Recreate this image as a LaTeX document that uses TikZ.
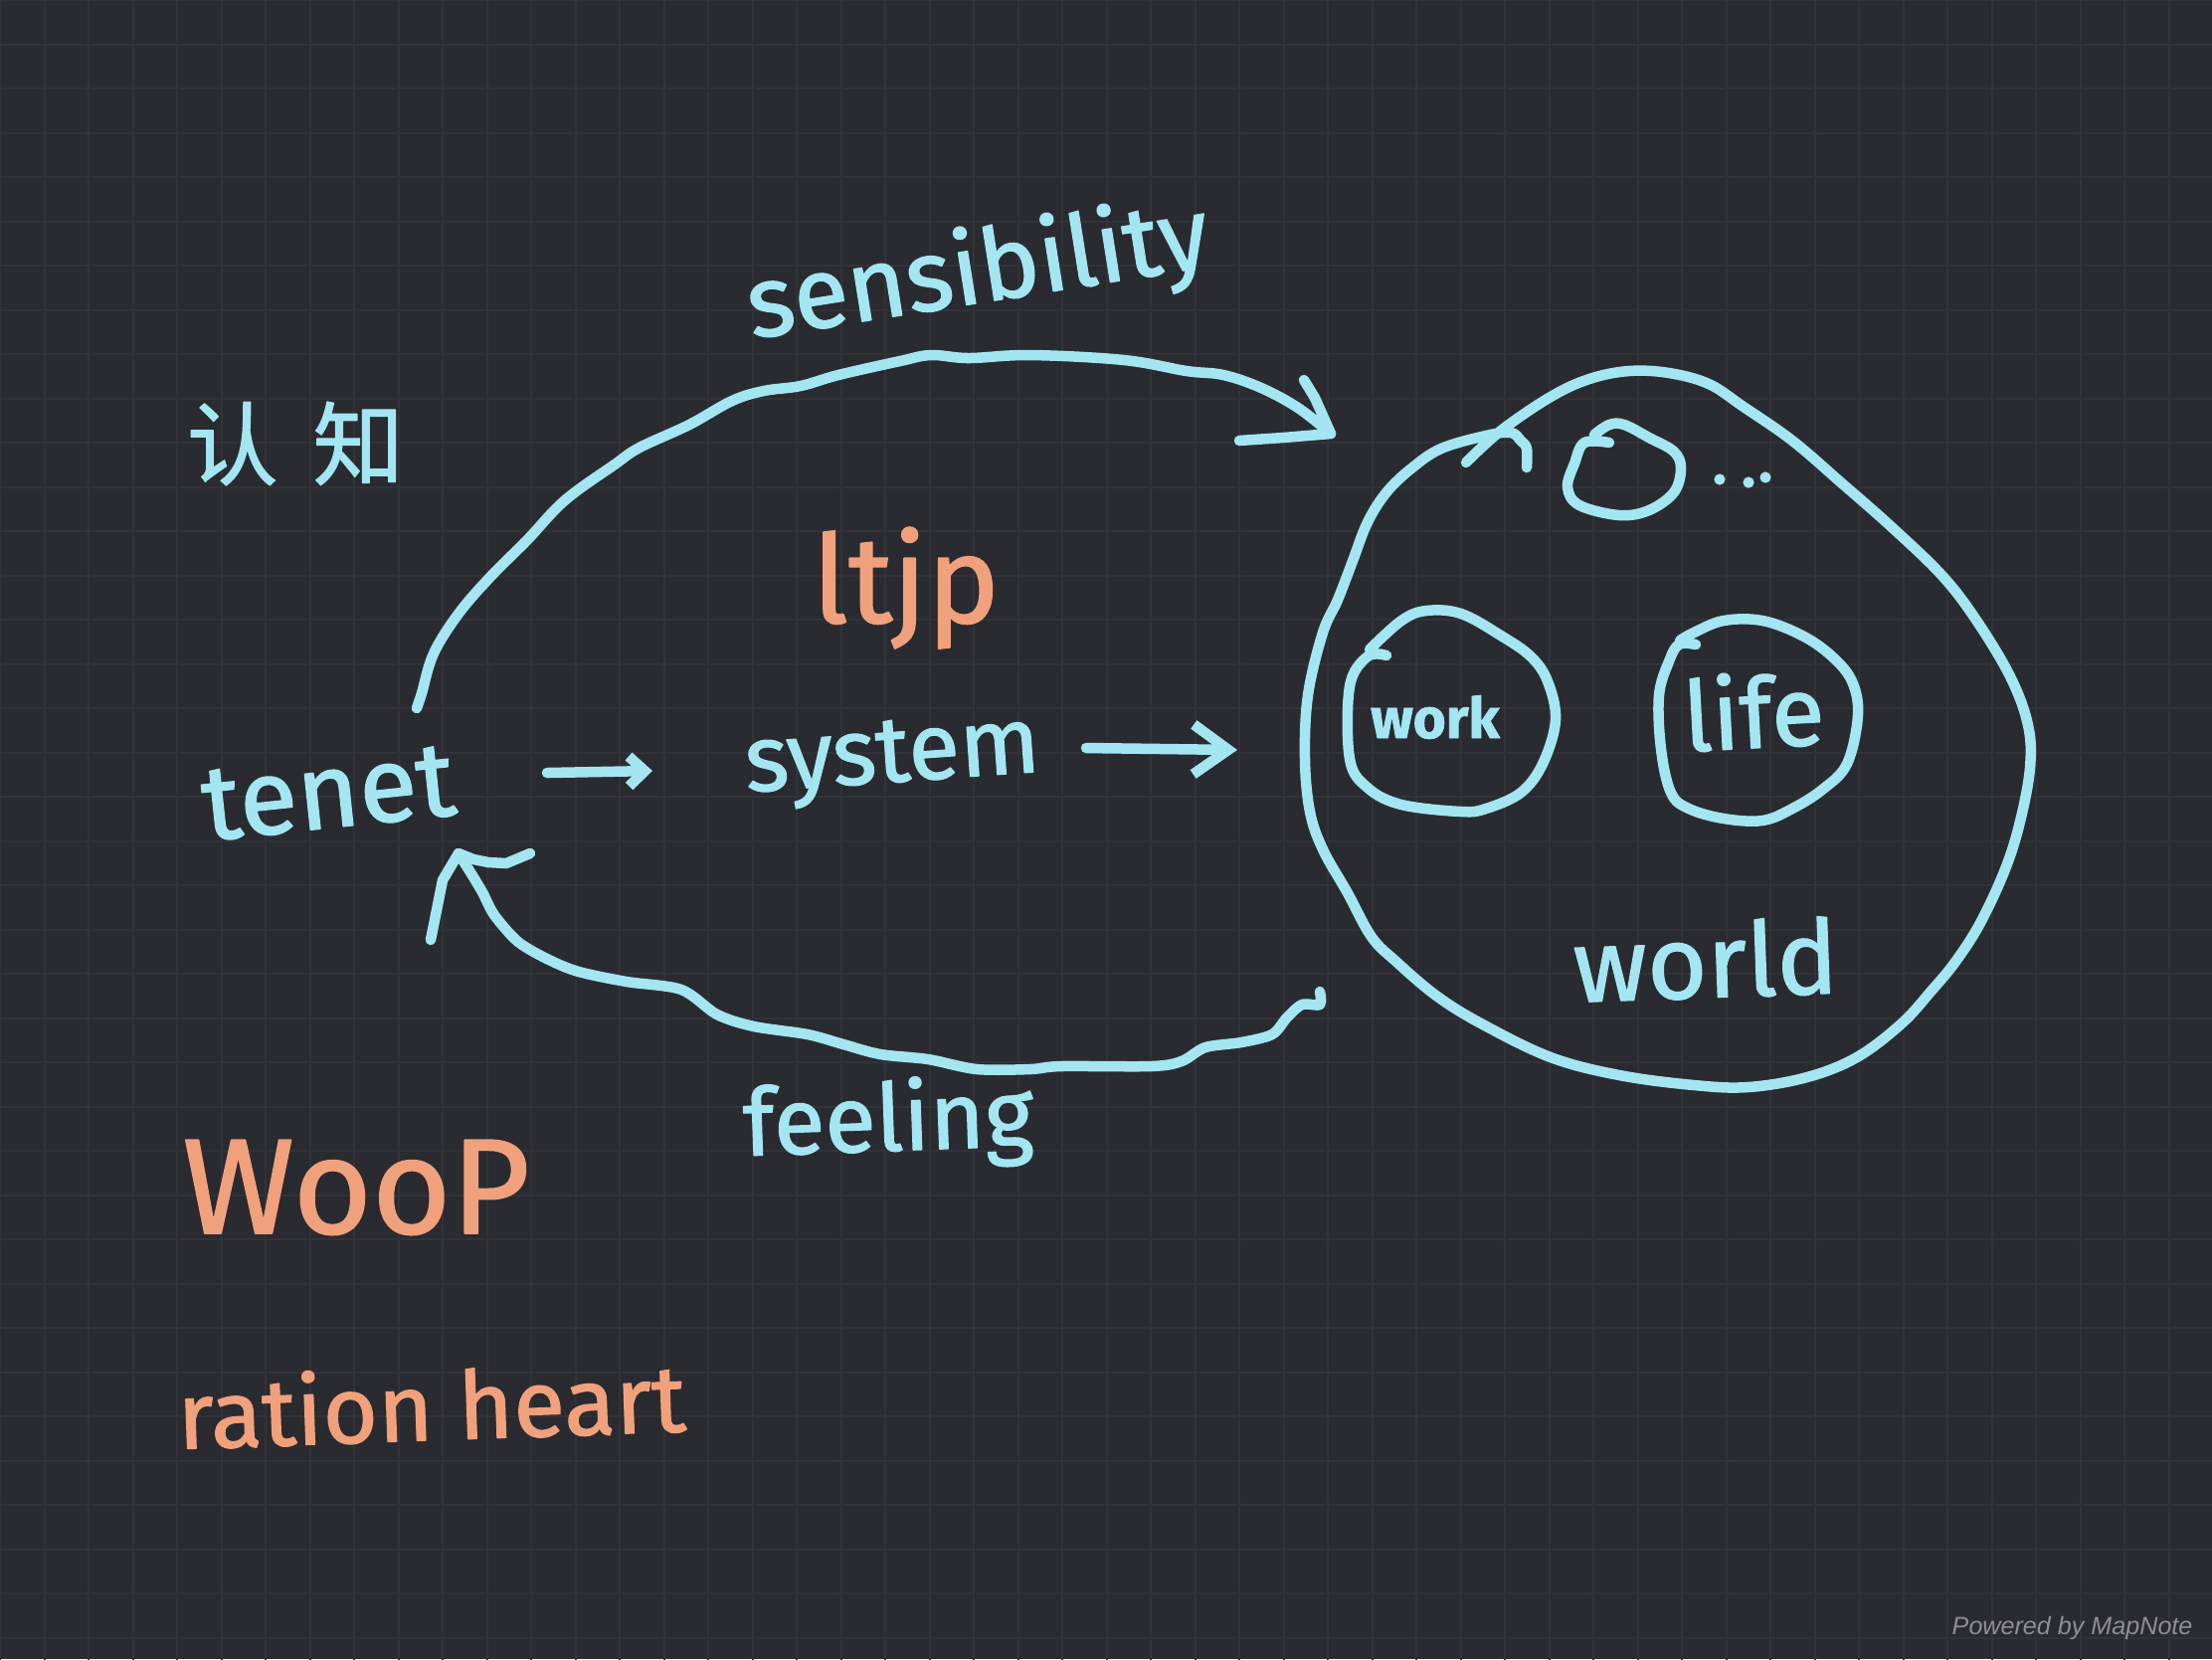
\documentclass[tikz,border=0pt]{standalone}
\usepackage{fontspec}
\setmainfont{Fira Sans}
\newfontfamily\handfont{Fira Sans}[FakeBold=1.3]
\newfontfamily\cjkfont{Noto Sans CJK SC}[FakeBold=1.3]
\newfontfamily\markfont{Liberation Sans}
\usetikzlibrary{arrows.meta}
\definecolor{board}{RGB}{42,43,48}
\definecolor{gridline}{RGB}{50,51,56}
\definecolor{ink}{RGB}{163,230,242}
\definecolor{rust}{RGB}{240,161,124}
\definecolor{watermark}{RGB}{142,142,147}

\begin{document}
\begin{tikzpicture}[line cap=round,line join=round,x=0.01cm,y=-0.01cm,
    pen/.style={draw=ink,line width=0.105cm},
    word/.style={text=ink,inner sep=0pt},
    rustword/.style={text=rust,inner sep=0pt},
    smallbarb/.style={-{Straight Barb[length=1.6mm,width=3mm]}},
    midbarb/.style={-{Straight Barb[length=3.5mm,width=5mm]}}]
        \useasboundingbox (0,0) rectangle (2224,1668);
        \fill [board] (0,0) rectangle (2224,1668);
        \draw [gridline, line width=0.02cm, step=0.4448cm] (0cm,0cm) grid (22.24cm,-16.68cm);
        \draw (297,446) node[word, font=\fontsize{26}{30}\cjkfont] (renzhi) {认\hspace{10pt}知};
        \draw (988,304) node[word, anchor=base, rotate=9, font=\fontsize{28.7}{34}\handfont] (sensibility) {sensibility};
        \draw (911,626) node[rustword, anchor=base, font=\fontsize{35}{40}\handfont] (ltjp) {ltjp};
        \draw (334,832) node[word, anchor=base, rotate=6, font=\fontsize{30.4}{36}\handfont] (tenet) {tenet};
        \draw (899,786) node[word, anchor=base, rotate=4, font=\fontsize{26.8}{31}\handfont] (system) {system};
        \draw (894,1157) node[word, anchor=base, rotate=2, font=\fontsize{26.8}{32}\handfont] (feeling) {feeling};
        \draw (1443,742) node[word, anchor=base, font=\fontsize{16.1}{19}\handfont\bfseries] (work) {work};
        \draw (1765,752) node[word, anchor=base, rotate=3, font=\fontsize{27.9}{33}\handfont] (life) {life};
        \draw (1716,1003) node[word, anchor=base, rotate=2, font=\fontsize{29.4}{35}\handfont] (world) {world};
        \draw (358,1240) node[rustword, anchor=base, font=\fontsize{38.7}{46}\handfont] (woop) {WooP};
        \draw (435,1448) node[rustword, anchor=base, rotate=2, font=\fontsize{27}{32}\handfont] (rationheart) {ration heart};
        \draw (1962,1643) node[anchor=base west, inner sep=0pt, text=watermark, font=\fontsize{7.15}{9}\markfont\itshape] (powered) {Powered by MapNote};
        \coordinate (tenet-out) at (550,777);
        \coordinate (system-in) at (656,775);
        \coordinate (system-out) at (1092,752);
        \coordinate (world-in) at (1244,754);
        \coordinate (sens-from) at (419,712);
        \coordinate (sens-to) at (1338,436);
        \coordinate (feel-from) at (1327,997);
        \coordinate (feel-to) at (461,858);
        \draw [pen, smallbarb] (tenet-out) -- (system-in);
        \draw [pen, midbarb] (system-out) -- (world-in);
        \draw [pen] plot[smooth, tension=0.6] coordinates {(sens-from) (424,697) (436,657) (461,617) (493,580) (530,543) (568,503) (618,467) (643,450) (693,427) (736,403) (768,393) (805,388) (843,377) (905,363) (936,357) (974,360) (1036,357) (1130,362) (1193,373) (1230,377) (1268,390) (1305,410) (sens-to)};
        \draw [pen] (1311,382) -- (1322,400) -- (sens-to) -- (1290,440) -- (1246,443);
        \draw [pen] plot[smooth, tension=0.5] coordinates {(feel-from) (1327,1010) (1309,1010) (1294,1023) (1279,1040) (1248,1048) (1212,1053) (1188,1067) (1158,1072) (1067,1072) (1036,1075) (982,1075) (933,1065) (885,1060) (848,1050) (812,1040) (758,1032) (721,1020) (685,995) (630,987) (582,977) (552,965) (521,947) (497,920) (485,897) (473,877) (feel-to)};
        \draw [pen] (433,945) -- (445,885) -- (feel-to) -- (476,864) -- (491,867) -- (509,868) -- (533,858);
        \draw [pen] plot[smooth, tension=0.6] coordinates {(1474,465) (1509,433) (1559,399) (1598,381) (1638,373) (1678,375) (1718,386) (1753,409) (1802,443) (1852,486) (1902,530) (1952,578) (1986,622) (2021,680) (2039,729) (2041,772) (2031,826) (2016,874) (1991,928) (1966,967) (1942,996) (1912,1029) (1867,1063) (1817,1083) (1758,1093) (1703,1091) (1628,1081) (1559,1063) (1489,1029) (1444,1001) (1404,967) (1379,942) (1355,898) (1330,854) (1317,816) (1312,763) (1315,699) (1330,636) (1345,603) (1360,564) (1375,525) (1394,495) (1419,471) (1449,451) (1494,438) (1519,435) (1529,443) (1535,451) (1535,470)};
        \draw [pen] plot[smooth, tension=0.6] coordinates {(1394,659) (1375,660) (1357,690) (1357,763) (1375,792) (1409,809) (1469,816) (1494,813) (1529,797) (1551,768) (1564,724) (1556,685) (1539,660) (1509,639) (1469,617) (1434,614) (1409,624) (1377,653)};
        \draw [pen] plot[smooth, tension=0.6] coordinates {(1705,648) (1688,648) (1678,665) (1668,699) (1670,753) (1680,797) (1698,813) (1733,823) (1772,825) (1802,813) (1832,794) (1857,768) (1868,719) (1862,685) (1842,660) (1812,639) (1772,624) (1733,624) (1703,636) (1689,644)};
        \draw [pen] plot[smooth, tension=0.6] coordinates {(1618,445) (1593,445) (1583,466) (1576,490) (1588,508) (1628,518) (1658,513) (1683,495) (1690,471) (1683,454) (1658,440) (1633,427) (1618,427) (1603,437)};
        \fill [ink] (1729,482) circle[radius=1.6pt];
        \fill [ink] (1758,485) circle[radius=1.6pt];
        \fill [ink] (1775,480) circle[radius=1.6pt];
\end{tikzpicture}
\end{document}
